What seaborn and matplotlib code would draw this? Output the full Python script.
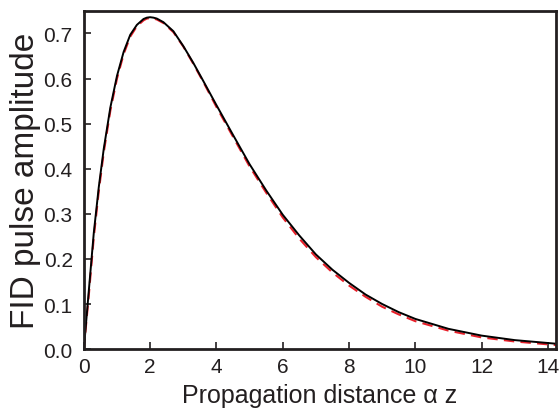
import pandas as pd
import seaborn as sns
from matplotlib import pyplot as plt

# values
distance = [0.0, 0.15, 0.3, 0.45, 0.6, 0.8, 1.0, 1.2, 1.4, 1.6, 1.8, 1.9, 2.0, 2.1, 2.2, 2.4,
            2.7, 3.0, 3.3, 3.6, 4.0, 4.5, 5.0, 5.5, 6.0, 6.5, 7.0, 7.5, 8.0,
            8.5, 9.0, 9.5, 10.0, 11.0, 12.0, 13.0, 14.25]
amp_exact = [0.0, 0.13, 0.258, 0.359, 0.444, 0.536, 0.606, 0.659, 0.697, 0.719, 0.732,
             0.735, 0.736, 0.735, 0.733, 0.725, 0.705, 0.672, 0.635, 0.595, 0.541, 0.475, 0.41,
             0.352, 0.298, 0.252, 0.21, 0.176, 0.147, 0.121, 0.1, 0.082, 0.067,
             0.045, 0.03, 0.02, 0.012]
amp_approx = [0.0, 0.12, 0.248, 0.35, 0.436, 0.529, 0.6, 0.654, 0.693, 0.716, 0.729,
              0.733, 0.734, 0.733, 0.731, 0.723, 0.703, 0.671, 0.633, 0.593, 0.537, 0.471, 0.405,
              0.347, 0.292, 0.245, 0.204, 0.17, 0.141, 0.116, 0.094, 0.077, 0.062,
              0.041, 0.026, 0.017, 0.009]

df = pd.DataFrame({"z": distance, "exact": amp_exact, "approx": amp_approx})

sns.set_style("ticks")
plt.rcParams["font.family"] = ["Liberation Sans", "DejaVu Sans"]

fig = plt.figure(figsize=(5.59, 4.10), dpi=100)
ax = fig.add_axes([0.150, 0.146, 0.845, 0.825])

sns.lineplot(ax=ax, data=df, x="z", y="approx", color="#e8202a",
             linestyle=(0, (5, 3)), linewidth=1.5)
sns.lineplot(ax=ax, data=df, x="z", y="exact", color="black", linewidth=1.4)

ax.set_xlim(0, 14.25)
ax.set_ylim(0, 0.75)
ax.set_xticks([0, 2, 4, 6, 8, 10, 12, 14])
ax.set_yticks([0.0, 0.1, 0.2, 0.3, 0.4, 0.5, 0.6, 0.7])
ax.set_yticklabels(["0.0", "0.1", "0.2", "0.3", "0.4", "0.5", "0.6", "0.7"])

for s in ax.spines.values():
    s.set_visible(True)
    s.set_linewidth(2)
    s.set_color("#231f20")

ax.tick_params(direction="in", length=5, width=1.2, labelsize=15,
               colors="#231f20")
ax.tick_params(axis="y", pad=8)
ax.tick_params(axis="x", pad=6)
ax.set_xlabel("Propagation distance \u03b1 z", fontsize=18, color="#231f20", labelpad=4.5)
ax.set_ylabel("FID pulse amplitude", fontsize=24, color="#231f20", labelpad=2)

fig.savefig("out.png", dpi=100)
